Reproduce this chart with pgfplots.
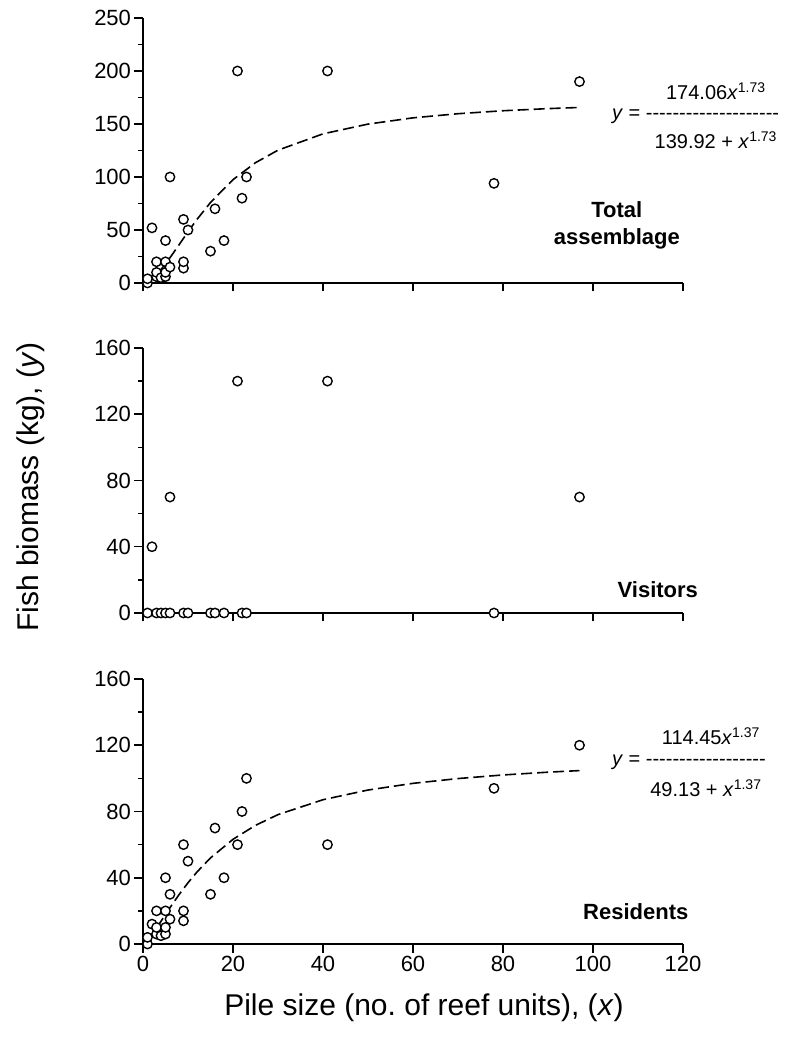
\documentclass[border=0pt]{standalone}
\usepackage{fontspec}
\setmainfont{Liberation Sans}
\usepackage{pgfplots}
\usepackage{pgfplotstable}
\pgfplotsset{compat=1.18}
\frenchspacing

\newcommand\hy{-\kern0pt}

\pgfplotstableread{
x y
1 0
1 4
2 52
3 6
3 10
3 20
4 5
5 6
5 10
5 20
5 40
6 15
6 100
9 14
9 20
9 60
10 50
15 30
16 70
18 40
21 200
22 80
23 100
41 200
78 94
97 190
}\total

\pgfplotstableread{
x y
1 0
2 40
3 0
4 0
5 0
6 0
6 70
9 0
10 0
15 0
16 0
18 0
21 140
22 0
23 0
41 140
78 0
97 70
}\visitors

\pgfplotstableread{
x y
1 0
1 4
2 12
3 6
3 10
3 20
4 5
5 6
5 10
5 20
5 40
6 15
6 30
9 14
9 20
9 60
10 50
15 30
16 70
18 40
21 60
22 80
23 100
41 60
78 94
97 120
}\residents

\pgfplotsset{
  panel/.style={
    scale only axis, width=540pt, height=265pt,
    xmin=0, xmax=120, ymin=0,
    axis lines=left, axis line style={-, line width=1.7pt, black},
    tick style={line width=1.5pt, black},
    tick align=outside, major tick length=8.5pt, minor tick length=4.5pt,
    xtick={0,20,...,120}, minor y tick num=1,
    tick label style={font=\fontsize{22}{26}\selectfont},
    /pgf/number format/assume math mode=true,
    clip=false,
  },
  dots/.style={only marks, mark=*, mark size=4.7pt,
    mark options={line width=1.4pt, fill=white, draw=black}},
  fitline/.style={no marks, line width=1.6pt, dash pattern=on 11pt off 5pt, black},
}
\tikzset{
  eq/.style={font=\fontsize{20}{24}\selectfont, inner sep=0pt},
  plab/.style={font=\bfseries\fontsize{22}{27}\selectfont, align=center, inner sep=0pt},
}

\begin{document}
\begin{tikzpicture}
\useasboundingbox (-143pt,-95pt) rectangle (646pt,944pt);

% Total assemblage
\begin{axis}[panel, at={(0pt,661pt)}, anchor=south west,
  ymax=250, ytick={0,50,...,250}, xticklabels={}]
\addplot[fitline] coordinates {(1,1.24)(2,4.03)(3,7.94)(4,12.69)(5,18.05)(6,23.83)(8,36.0)(10,48.27)(12,60.0)(15,75.95)(20,97.48)(25,113.5)(30,125.3)(40,140.7)(50,149.9)(60,155.8)(70,159.7)(80,162.5)(90,164.5)(97,165.6)};
\addplot[dots] table[x=x,y=y] {\total};
\node[plab] at (axis cs:105.3,54) {Total\\assemblage};
\node[eq] at (axis cs:127.3,181) {174.06\textit{x}\textsuperscript{1.73}};
\node[eq, anchor=west] at (axis cs:104.2,156.9) {\textit{y} = \hy\hy\hy\hy\hy\hy\hy\hy\hy\hy\hy\hy\hy\hy\hy\hy\hy\hy\hy\hy};
\node[eq] at (axis cs:127.3,134.5) {139.92 + \textit{x}\textsuperscript{1.73}};
\end{axis}

% Visitors
\begin{axis}[panel, at={(0pt,331pt)}, anchor=south west,
  ymax=160, ytick={0,40,...,160}, xticklabels={}]
\addplot[dots] table[x=x,y=y] {\visitors};
\node[plab] at (axis cs:114.4,14.1) {Visitors};
\end{axis}

% Residents
\begin{axis}[panel, at={(0pt,0pt)}, anchor=south west,
  ymax=160, ytick={0,40,...,160}]
\addplot[fitline] coordinates {(1,2.28)(2,5.72)(3,9.61)(4,13.70)(5,17.83)(6,21.93)(8,29.77)(10,36.97)(12,43.48)(15,51.97)(20,63.20)(25,71.65)(30,78.11)(40,87.12)(50,92.96)(60,97.0)(70,99.89)(80,102.06)(90,103.74)(97,104.7)};
\addplot[dots] table[x=x,y=y] {\residents};
\node[plab] at (axis cs:109.5,19.5) {Residents};
\node[eq] at (axis cs:126.2,125.5) {114.45\textit{x}\textsuperscript{1.37}};
\node[eq, anchor=west] at (axis cs:104.2,109.5) {\textit{y} = \hy\hy\hy\hy\hy\hy\hy\hy\hy\hy\hy\hy\hy\hy\hy\hy\hy\hy};
\node[eq] at (axis cs:125.1,94) {49.13 + \textit{x}\textsuperscript{1.37}};
\end{axis}

\node[rotate=90, font=\fontsize{30}{35}\selectfont] at (-112pt,457pt) {Fish biomass (kg), (\textit{y})};
\node[anchor=base, font=\fontsize{30}{35}\selectfont] at (281pt,-71pt) {Pile size (no.\ of reef units), (\textit{x})};
\end{tikzpicture}
\end{document}
